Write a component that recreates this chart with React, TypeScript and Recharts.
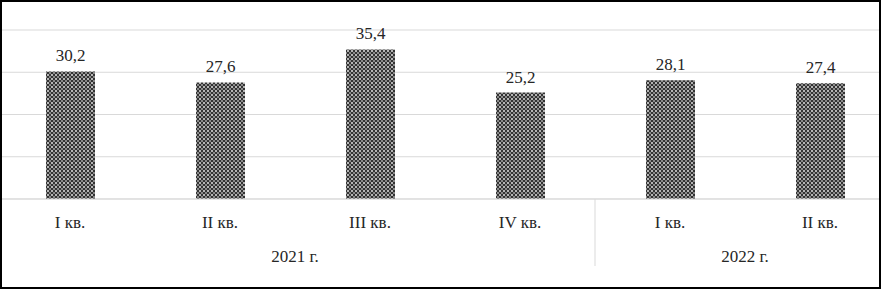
import React from 'react';
import { BarChart, Bar, XAxis, YAxis, CartesianGrid, LabelList } from 'recharts';

const quarters = ['I кв.', 'II кв.', 'III кв.', 'IV кв.', 'I кв.', 'II кв.'];
const years = ['2021 г.', '2021 г.', '2021 г.', '2021 г.', '2022 г.', '2022 г.'];
const values = [30.2, 27.6, 35.4, 25.2, 28.1, 27.4];
const yTicks = [0, 10, 20, 30, 40];

const data = quarters.map((q, i) => ({ key: i, quarter: q, year: years[i], value: values[i] }));

const W = 900;
const BAND = W / quarters.length;
const FONT = '"Liberation Serif", "Times New Roman", serif';

const QuarterTick = (props: any) => {
  const { x, y, payload } = props;
  return (
    <text x={x} y={y + 21} textAnchor="middle" fontFamily={FONT} fontSize={17} fill="#262626">
      {quarters[payload.value]}
    </text>
  );
};

const YearTick = (props: any) => {
  const { x, y, payload } = props;
  const i = payload.value;
  const yr = years[i];
  const first = years.indexOf(yr);
  const last = years.lastIndexOf(yr);
  const out: any[] = [];
  if (i === first) {
    const cx = x + ((last - first) * BAND) / 2;
    out.push(
      <text key="t" x={cx} y={y + 25} textAnchor="middle" fontFamily={FONT} fontSize={17} fill="#262626">
        {yr}
      </text>
    );
  }
  if (i === last && i < years.length - 1) {
    out.push(<line key="l" x1={x + BAND / 2} x2={x + BAND / 2} y1={y - 38} y2={y + 29} stroke="#d9d9d9" strokeWidth={1} />);
  }
  return <g>{out}</g>;
};

const ValueLabel = (props: any) => {
  const { x, y, width, value } = props;
  return (
    <text x={x + width / 2} y={y - 10} textAnchor="middle" fontFamily={FONT} fontSize={17} fill="#262626">
      {Number(value).toFixed(1).replace('.', ',')}
    </text>
  );
};

export default function App() {
  return (
    <div
      style={{
        position: 'absolute',
        left: 0,
        top: 0,
        width: 881,
        height: 289,
        boxSizing: 'border-box',
        border: '2px solid #000',
        overflow: 'hidden',
        background: '#fff',
      }}
    >
      <div style={{ position: 'absolute', left: -7, top: 0 }}>
        <BarChart width={W} height={287} data={data} margin={{ top: 28, right: 0, bottom: 0, left: 0 }}>
          <defs>
            <pattern id="chk" width={4} height={4} patternUnits="userSpaceOnUse">
              <rect width={4} height={4} fill="#333" />
              <rect x={0} y={0} width={2} height={2} fill="#b5b5b5" />
              <rect x={2} y={2} width={2} height={2} fill="#8a8a8a" />
            </pattern>
          </defs>
          <CartesianGrid horizontal vertical={false} stroke="#d9d9d9" />
          <YAxis hide domain={[0, 40]} ticks={yTicks} />
          <XAxis dataKey="key" height={30} axisLine={{ stroke: '#d9d9d9' }} tickLine={false} tick={<QuarterTick />} interval={0} />
          <XAxis dataKey="key" xAxisId="year" height={60} axisLine={false} tickLine={false} tick={<YearTick />} interval={0} />
          <Bar dataKey="value" fill="url(#chk)" barSize={49} isAnimationActive={false}>
            <LabelList dataKey="value" content={<ValueLabel />} />
          </Bar>
        </BarChart>
      </div>
    </div>
  );
}
